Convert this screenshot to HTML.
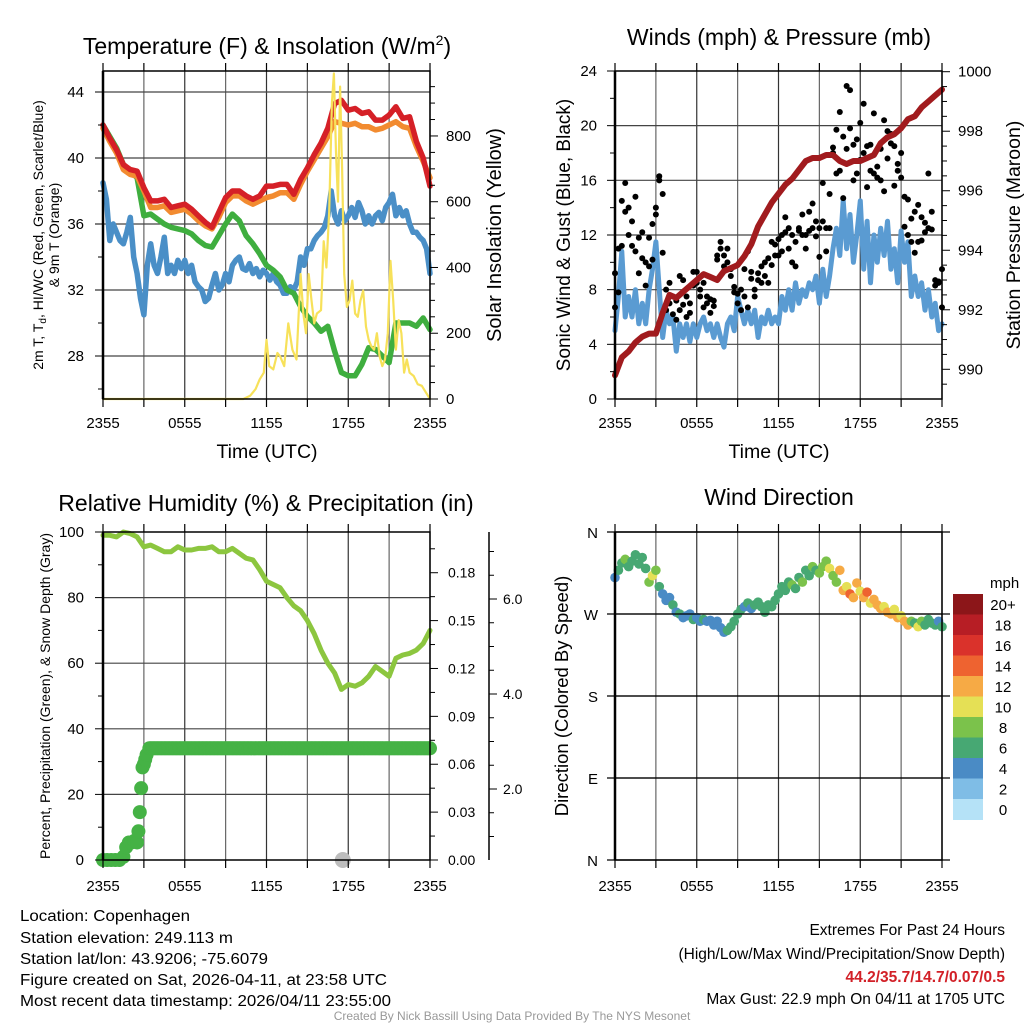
<!DOCTYPE html>
<html><head><meta charset="utf-8"><style>
html,body{margin:0;padding:0;background:#fff;}
svg{display:block;font-family:"Liberation Sans",Arial,sans-serif;}
</style></head><body>
<svg id="chart" width="1024" height="1024" viewBox="0 0 1024 1024" xmlns="http://www.w3.org/2000/svg">
<rect x="0" y="0" width="1024" height="1024" fill="#fff"/>
<g id="layer-grid"></g>
<g id="layer-data"></g>
<g id="layer-axes"></g>
<!-- titles -->
<text x="267" y="54" font-size="23" text-anchor="middle">Temperature (F) &amp; Insolation (W/m<tspan font-size="14" dy="-9">2</tspan><tspan dy="9">)</tspan></text>
<text x="779" y="45" font-size="23" text-anchor="middle">Winds (mph) &amp; Pressure (mb)</text>
<text x="266" y="511" font-size="23" text-anchor="middle">Relative Humidity (%) &amp; Precipitation (in)</text>
<text x="779" y="505" font-size="23" text-anchor="middle">Wind Direction</text>
<!-- axis titles -->
<text transform="translate(43,235) rotate(-90)" font-size="14" text-anchor="middle">2m T, T<tspan font-size="10" dy="3">d</tspan><tspan dy="-3">, HI/WC (Red, Green, Scarlet/Blue)</tspan></text>
<text transform="translate(59,235) rotate(-90)" font-size="14" text-anchor="middle">&amp; 9m T (Orange)</text>
<text transform="translate(501,235) rotate(-90)" font-size="20" text-anchor="middle">Solar Insolation (Yellow)</text>
<text x="267" y="458" font-size="19.5" text-anchor="middle">Time (UTC)</text>
<text transform="translate(570,235) rotate(-90)" font-size="19" text-anchor="middle">Sonic Wind &amp; Gust (Blue, Black)</text>
<text transform="translate(1020,235) rotate(-90)" font-size="19.5" text-anchor="middle">Station Pressure (Maroon)</text>
<text x="779" y="458" font-size="19.5" text-anchor="middle">Time (UTC)</text>
<text transform="translate(50,696) rotate(-90)" font-size="14" text-anchor="middle">Percent, Precipitation (Green), &amp; Snow Depth (Gray)</text>
<text transform="translate(568,696) rotate(-90)" font-size="18.5" text-anchor="middle">Direction (Colored By Speed)</text>
<!-- colorbar label -->
<text x="990" y="588" font-size="15">mph</text>
<!-- footer -->
<g font-size="15.5">
<text x="20" y="921" textLength="170" lengthAdjust="spacingAndGlyphs">Location: Copenhagen</text>
<text x="20" y="943" textLength="213" lengthAdjust="spacingAndGlyphs">Station elevation: 249.113 m</text>
<text x="20" y="964" textLength="248" lengthAdjust="spacingAndGlyphs">Station lat/lon: 43.9206; -75.6079</text>
<text x="20" y="985" textLength="367" lengthAdjust="spacingAndGlyphs">Figure created on Sat, 2026-04-11, at 23:58 UTC</text>
<text x="20" y="1006" textLength="371" lengthAdjust="spacingAndGlyphs">Most recent data timestamp: 2026/04/11 23:55:00</text>
</g>
<g font-size="15.5" text-anchor="end">
<text x="1005" y="935">Extremes For Past 24 Hours</text>
<text x="1005" y="959">(High/Low/Max Wind/Precipitation/Snow Depth)</text>
<text x="1005" y="982" fill="#d22027" font-weight="bold">44.2/35.7/14.7/0.07/0.5</text>
<text x="1005" y="1004">Max Gust: 22.9 mph On 04/11 at 1705 UTC</text>
</g>
<text x="512" y="1020" font-size="12" fill="#999" text-anchor="middle">Created By Nick Bassill Using Data Provided By The NYS Mesonet</text>
</svg>
<script>
// ---------- data ----------
const timeTicks = ["2355","0555","1155","1755","2355"];
const halfStep = 0.5, quarterStep = 0.25;
const tempRed = [42,41.2,40.5,39.6,39.3,39.2,38.2,37.4,37.4,37.5,37,37.1,37.2,36.9,36.5,36.1,35.8,36.7,37.6,38,38,37.7,37.5,37.7,38.3,38.3,38.4,38.4,37.8,38.7,39.4,40.2,40.9,41.8,43.3,43.5,42.9,43,42.7,42.8,42.3,42.3,42.6,43.1,42.4,42.5,41,40,38.3];
const tempOrange = [41.8,41,40.3,39.3,39,38.9,38,37,37,37.1,36.7,36.8,36.9,36.6,36.2,35.9,35.7,36.4,37.3,37.7,37.7,37.4,37.2,37.4,37.6,37.7,37.9,37.9,37.5,38.4,39.2,39.9,40.6,41.3,42.2,42.1,42,42.1,41.9,41.9,41.7,41.8,42,42.2,41.9,41.8,40.7,39.8,38.8];
const tempGreen = [42,41.3,40.6,39.6,39.2,38.8,36.5,36.6,36.3,36,35.8,35.7,35.6,35.4,35,34.7,34.6,35.3,36,36.6,36.2,35.3,34.8,34.2,33.5,33.2,32.8,32,31.8,31,30.4,30,29.5,29.8,28.3,27,26.8,26.8,27.5,28.5,28.4,28,27.6,30,30,30,29.8,30.3,29.6];
const tempBlue = [38.5,37.5,35,36,35.5,35,34.8,35.5,36.4,34,33,31.5,30.5,33.5,34.8,33.5,33,34,35.2,33,33.5,33,33.8,33.3,33.8,33,33.5,32.5,32.2,32,31.3,31.5,32.3,33,32,32.3,33,32.5,33.5,33.8,34,33.3,33.2,33.6,33,33.3,32.8,33.2,33,32.6,33,32.5,32.3,31.8,31.8,32.2,32,32.5,34,33.5,34.5,34.5,35,35.3,35.5,35.8,36.5,38,36.5,36,36.8,36.2,36.5,37,36.4,37.3,36.8,36,36.5,36,36.5,36.7,36.2,37,37.3,37.8,36.5,37,36.5,36.8,36,35.5,35.5,35.2,35,34.5,33];
const solarHours = [0,10.3,10.8,11.2,11.5,11.8,12,12.2,12.5,12.8,13,13.3,13.6,13.9,14.2,14.5,14.7,14.9,15.1,15.3,15.5,15.7,16,16.2,16.4,16.6,16.8,16.95,17.1,17.25,17.4,17.55,17.7,17.9,18.1,18.3,18.5,18.7,18.9,19.1,19.3,19.5,19.7,19.9,20.1,20.3,20.5,20.7,20.9,21.1,21.3,21.5,21.7,21.9,22.1,22.3,22.5,22.8,23.1,23.4,23.7,24];
const solarValues = [0,0,10,30,60,80,180,100,90,140,130,100,230,150,120,380,260,200,380,300,230,260,270,480,400,570,900,990,750,600,950,700,380,280,300,360,260,250,300,330,220,180,160,150,200,130,100,120,200,420,300,150,240,200,80,120,80,70,45,40,20,0];
const windSpeed = [5,7.5,10.8,6,7.5,6,8,5.5,7,5.5,8,9.5,11.5,8,4.5,6.5,5.5,6,3.5,5.5,4.5,5.5,4.2,5.5,4.5,5.5,6,5,5.5,4.5,5.5,4.5,3.8,5.5,6,5,7.5,6.5,5.5,6.5,5.5,6.5,4.5,6,5.5,6.5,5.5,6,5.5,7.5,6.5,8,6.5,8.5,7,8,7.5,8.5,8,9,7,9.5,7.5,9,11,12.5,10.5,14.5,11,13.5,10,12,14.5,9.5,13,8.5,12,10,12.5,10.5,13,9.5,11,8.5,12.3,10,11.5,7.5,9,7.5,8.5,6.5,8,6,7,5,5.5];
const gustA = [6.7,11,11.2,15.8,14,13,14.8,9.2,10.3,10,11.8,12.8,13.5,16.3,15,6.5,8.5,6.2,5.8,9,8.7,7.5,6.3,8.3,8.5,8,8.5,7.5,6.3,7.2,10.5,11.5,10.5,11,9.5,8.2,7,8,9.5,10.8,9.3,7.5,9.2,9.7,10,10.3,11.5,10.5,11.7,12,13.3,12.5,12,9.7,12.5,13.5,12,13.7,14.3,13,12.5,15.8,12.5,15,18,19.7,21,14.7,22.9,22.6,18.6,19,20.2,21.6,18.5,16.7,20.9,16.2,18.3,20.4,19.6,19.4,18.5,17.2,18,12.6,14.6,13.2,10.7,14.2,13.3,12.9,16.5,13.7,8.3,8.5,9.5];
const gustB = [9.2,7.8,14.5,13.7,12,11.2,10.8,11.8,12.2,8.3,9.7,10.2,14,16,10.7,8,7,7.5,7.2,6.5,6.9,6,7,9.3,9.3,7.5,6.7,7,7.3,6.8,10.2,11,9.7,10,9,7.8,7.7,6.5,7.5,6.7,8.8,8,8.7,8.5,9,8.5,9.8,11.3,10.5,10.8,12.2,11,10,11.5,12.3,12,11,12.3,12.5,11.9,10.4,13,10.8,12.5,18.4,16.5,16.7,19.2,18.3,19.8,16,16.5,17.5,18,15.5,18.6,16.5,17,16,15.2,17.6,18.7,15.6,16.7,16.2,14.8,12,11.5,13.7,11.5,11.6,12.2,12.5,12.4,8.7,8.6,6.7];
const pressure = [989.8,990.4,990.6,990.9,991.1,991.2,991.2,991.9,992.5,992.4,992.6,992.8,993.0,993.2,993.1,993.0,993.3,993.4,993.5,993.8,994.2,994.8,995.2,995.6,995.9,996.2,996.4,996.7,997.0,997.1,997.1,997.2,997.2,997.0,996.9,997.0,997.0,997.1,997.2,997.6,997.8,997.9,998.1,998.4,998.5,998.8,999.0,999.2,999.4];
const humidity = [99,99,98.5,100,99.5,98.5,95.5,96,95,94,94,95.5,94.5,94.5,95,95,95.5,94,94,95,93.5,92,91.5,88.5,85,84,83,80,77.5,76,73,69,64,60,57,52,53.5,53,54,56,59,57.5,56,61.5,62.5,63,64,66,70];
const precipHours = [0,0.3,0.6,0.9,1.2,1.5,1.7,1.9,2.1,2.3,2.5,2.6,2.7,2.8,2.9,3.0,3.1,3.2,3.4];
const precipValues = [0,0,0,0,0,0.002,0.008,0.011,0.011,0.012,0.011,0.018,0.03,0.045,0.058,0.06,0.063,0.066,0.07];
const precipFinal = 0.07;
const snowHours = [17.6];
const snowDepth = [0];
const dirValues = [310,318,326,330,322,328,335,325,332,320,305,312,318,300,292,285,288,280,272,270,266,268,270,264,266,262,264,262,263,258,262,255,250,252,256,262,270,275,278,282,276,280,283,278,272,280,278,285,292,300,296,305,302,298,310,305,318,312,322,318,315,322,328,320,312,305,318,296,300,292,288,304,295,288,294,282,286,280,276,278,272,270,275,266,268,262,258,262,260,256,262,258,264,260,258,262,256];
const dirSpeed = [5,7,7,9,7,6,7,6,6,6,8,10,9,6,5,4.5,5,6,5,6,4.5,5,4.5,6,5,4.5,6,5,4.5,5,4.5,5,4.5,6,6,6,7,6,5,6,5,6,6,6,6,6.5,6,6,6,7,6,7,8,7,7,8,6,7,8,7,8,8,9,10,8,9,12,13,11,14,12,13,10,12,14,11,12,13,12,11,12,13,10,12,10,12,13,8,7,10,8,7,6,7,6,4.5,7];
const speedBins = ["0","2","4","6","8","10","12","14","16","18","20+"];
const binColors = ["#b5e2f7","#7fbde6","#4a8bc5","#47a873","#7bc24b","#e5e055","#f6aa45","#ee6330","#da322b","#b71e25","#8c1619"];

// ---------- helpers ----------
const NS="http://www.w3.org/2000/svg";
const gGrid=document.getElementById('layer-grid');
const gData=document.getElementById('layer-data');
const gAxes=document.getElementById('layer-axes');
function mk(parent,tag,attrs){const e=document.createElementNS(NS,tag);for(const k in attrs)e.setAttribute(k,attrs[k]);parent.appendChild(e);return e;}
function seg(parent,x1,y1,x2,y2,c,w){return mk(parent,'line',{x1:x1,y1:y1,x2:x2,y2:y2,stroke:c,'stroke-width':w});}
function txt(parent,x,y,s,size,anchor){const t=mk(parent,'text',{x:x,y:y,'font-size':size,'text-anchor':anchor||'start'});t.textContent=s;return t;}

const W=327;
function xScale(x0){return t=>x0+t*W/24;}

function timeAxis(x0,yTop,yBot,labY){
  const xs=xScale(x0);
  for(let i=0;i<=8;i++){
    const x=xs(i*3);
    const gl=seg(gGrid,x,yTop,x,yBot,(i%2===0)?'#333':'#666',1.2);
    
    
    seg(gAxes,x,yTop-8,x,yTop,'#000',1.2);
    seg(gAxes,x,yBot,x,yBot+8,'#000',1.2);
  }
  timeTicks.forEach((s,i)=>{
    const t=txt(gAxes,xs(i*6),labY,s,15,'middle');
    
    
  });
}
function frame(x0,yTop,yBot){
  const r=mk(gAxes,'rect',{x:x0,y:yTop,width:W,height:yBot-yTop,fill:'none',stroke:'#000','stroke-width':1.5});
  
  
  seg(gAxes,x0,yTop,x0,yBot,'#000',2.5);
}
function pathFrom(xsArr,ysArr,color,width,name){
  let d='';
  for(let i=0;i<Math.min(xsArr.length,ysArr.length);i++){d+=(i?'L':'M')+xsArr[i].toFixed(1)+' '+ysArr[i].toFixed(1);}
  const p=mk(gData,'path',{d:d,fill:'none',stroke:color,'stroke-width':width,'stroke-linejoin':'round','stroke-linecap':'round'});
  
  
  return p;
}
function gridTimes(n,step){const a=[];for(let i=0;i<n;i++)a.push(i*step);return a;}

// ---------- Panel 1: temperature ----------
(function(){
  const x0=103,yTop=71,yBot=399,xs=xScale(x0);
  const yT=v=>92+(44-v)*16.5;
  const yS=w=>399-w*0.3288;
  timeAxis(x0,yTop,yBot,428);
  [28,32,36,40,44].forEach(v=>{const l=seg(gGrid,x0,yT(v),x0+W,yT(v),'#444',1.2);
    
    
    const t=txt(gAxes,84,yT(v)+5,String(v),15,'end');
    
    });
  for(let v=26;v<=45;v+=2){if(yT(v)>=yTop&&yT(v)<=yBot)seg(gAxes,x0-(v%4===0?8:5),yT(v),x0,yT(v),'#000',1);}
  for(let w=0;w<=950;w+=50){const y=yS(w);seg(gAxes,x0+W,y,x0+W+(w%200===0?8:5),y,'#000',1);}
  [0,200,400,600,800].forEach(w=>{const t=txt(gAxes,446,yS(w)+5,String(w),15,'start');
    
    });
  pathFrom(gridTimes(tempBlue.length,quarterStep).map(xs),tempBlue.map(yT),'#4a8fc7',5.5,'dewpoint-line');
  pathFrom(gridTimes(tempGreen.length,halfStep).map(xs),tempGreen.map(yT),'#3fae3f',5.5,'wind-chill-line');
  pathFrom(gridTimes(tempOrange.length,halfStep).map(xs),tempOrange.map(yT),'#f28b30',5.5,'temp-9m-line');
  pathFrom(gridTimes(tempRed.length,halfStep).map(xs),tempRed.map(yT),'#d52027',5.5,'temp-2m-line');
  pathFrom(solarHours.map(xs),solarValues.map(yS),'#f7e15a',2.2,'solar-insolation-line');
  frame(x0,yTop,yBot);
})();

// ---------- Panel 2: wind & pressure ----------
(function(){
  const x0=615,yTop=71,yBot=399,xs=xScale(x0);
  const yW=v=>399-v*13.667;
  const yP=p=>369.3-(p-990)*29.76;
  timeAxis(x0,yTop,yBot,428);
  [4,8,12,16,20].forEach(v=>{const l=seg(gGrid,x0,yW(v),x0+W,yW(v),'#444',1.2);
    
    });
  [0,4,8,12,16,20,24].forEach(v=>{const t=txt(gAxes,597,yW(v)+5,String(v),15,'end');
    
    });
  for(let v=0;v<=24;v+=2)seg(gAxes,x0-(v%4===0?8:5),yW(v),x0,yW(v),'#000',1);
  for(let p=989;p<=1000.01;p+=0.5){const y=yP(p);if(y<=yBot)seg(gAxes,x0+W,y,x0+W+(Math.abs(p%2)<0.01?8:5),y,'#000',1);}
  [990,992,994,996,998,1000].forEach(p=>{const t=txt(gAxes,958,yP(p)+5,String(p),15,'start');
    
    });
  pathFrom(gridTimes(windSpeed.length,quarterStep).map(xs),windSpeed.map(yW),'#5a9bd2',5,'sonic-wind-line');
  const gt=gridTimes(gustA.length,quarterStep);
  [gustA,gustB].forEach(arr=>arr.forEach((v,i)=>{
    const c=mk(gData,'circle',{cx:xs(gt[i]),cy:yW(v),r:3,fill:'#000'});
    
    
  }));
  pathFrom(gridTimes(pressure.length,halfStep).map(xs),pressure.map(yP),'#a11b1e',6,'station-pressure-line');
  frame(x0,yTop,yBot);
})();

// ---------- Panel 3: humidity & precip ----------
(function(){
  const x0=103,yTop=532,yBot=860,xs=xScale(x0);
  const yR=v=>860-v*3.28;
  const yPr=v=>860-v*1596;
  const ySn=v=>884-v*47.5;
  timeAxis(x0,yTop,yBot,891);
  [20,40,60,80].forEach(v=>{const l=seg(gGrid,x0,yR(v),x0+W,yR(v),'#444',1.2);
    
    });
  [0,20,40,60,80,100].forEach(v=>{const t=txt(gAxes,84,yR(v)+5,String(v),15,'end');
    
    });
  for(let v=0;v<=100;v+=10)seg(gAxes,x0-(v%20===0?8:5),yR(v),x0,yR(v),'#000',1);
  for(let k=0;k<=13;k++){const v=k*0.015;seg(gAxes,x0+W,yPr(v),x0+W+(k%2===0?8:5),yPr(v),'#000',1);}
  ["0.00","0.03","0.06","0.09","0.12","0.15","0.18"].forEach((s,i)=>{const t=txt(gAxes,448,yPr(i*0.03)+5,s,14,'start');
    
    });
  const ax=seg(gAxes,489,yTop,489,yBot,'#000',1.5);
  
  
  for(let v=0.5;v<=7;v+=0.5){const y=ySn(v);if(y>=yTop&&y<=yBot)seg(gAxes,489,y,489+(v%2===0?8:5),y,'#000',1);}
  ["2.0","4.0","6.0"].forEach((s,i)=>{const t=txt(gAxes,503,ySn((i+1)*2)+5,s,14,'start');
    
    });
  pathFrom(gridTimes(humidity.length,halfStep).map(xs),humidity.map(yR),'#8cc63f',5,'humidity-line');
  const dot=(t,v)=>{const c=mk(gData,'circle',{cx:xs(t),cy:yPr(v),r:7,fill:'#45b245'});
    
    };
  precipHours.forEach((t,i)=>dot(t,precipValues[i]));
  for(let t=3.5;t<=24.001;t+=0.1)dot(t,precipFinal);
  snowHours.forEach((t,i)=>{const c=mk(gData,'circle',{cx:xs(t),cy:ySn(snowDepth[i])-24,r:8,fill:'#bdbdbd'});
    
    });
  frame(x0,yTop,yBot);
})();

// ---------- Panel 4: wind direction ----------
(function(){
  const x0=615,yTop=532,yBot=860,xs=xScale(x0);
  const yD=d=>860-d*328/360;
  timeAxis(x0,yTop,yBot,891);
  ["N","E","S","W","N"].forEach((s,i)=>{
    if(i>0&&i<4){const l=seg(gGrid,x0,yD(i*90),x0+W,yD(i*90),'#333',1.2);
      
      }
    seg(gAxes,x0-8,yD(i*90),x0+W+8,yD(i*90),'#000',1.2);
    const t=txt(gAxes,598,yD(i*90)+6,s,15,'end');
    
    
  });
  const dt=gridTimes(dirValues.length,quarterStep);
  dirValues.forEach((d,i)=>{
    const bin=Math.min(10,Math.floor(dirSpeed[i]/2));
    const c=mk(gData,'circle',{cx:xs(dt[i]),cy:yD(d),r:4.8,fill:binColors[bin]});
    
    
  });
  const cbTop=594,boxH=20.5;
  for(let i=0;i<11;i++){
    const bin=10-i;
    const r=mk(gAxes,'rect',{x:953,y:cbTop+i*boxH,width:30,height:boxH+0.5,fill:binColors[bin]});
    
    
    const t=txt(gAxes,1003,cbTop+i*boxH+boxH/2+5.5,speedBins[bin],15,'middle');
    
    
  }
  frame(x0,yTop,yBot);
})();
</script>
</body></html>
